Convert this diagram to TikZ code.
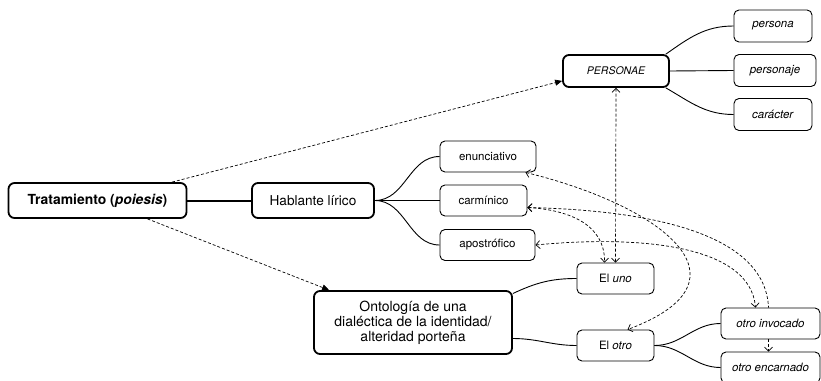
\documentclass[tikz,border=0pt]{standalone}
\usepackage{fontspec}
\setmainfont{TeX Gyre Heros}
\usepackage{tikz}
\usetikzlibrary{arrows.meta}

\begin{document}
\begin{tikzpicture}[x=1pt,y=-1pt,
    mainbox/.style={draw,line width=1.8pt,rounded corners=6pt,align=center,inner sep=0pt,font=\fontsize{13.6}{15}\selectfont},
    subbox/.style={draw,line width=0.9pt,rounded corners=5pt,inner sep=0pt,minimum height=31pt,font=\fontsize{11.5}{13}\selectfont},
    link/.style={line width=0.9pt},
    dlink/.style={line width=0.7pt,dash pattern=on 3pt off 2pt},
    >={Straight Barb[length=4pt,width=8pt]}]
    \useasboundingbox (0,0) rectangle (821,380);
    \node[mainbox,minimum width=178pt,minimum height=35pt,font=\fontsize{13.9}{15}\selectfont\bfseries] (trat) at (97.5,200.5) {Tratamiento (\textit{poiesis})};
    \node[mainbox,minimum width=122pt,minimum height=35pt] (hab) at (313,200.5) {Hablante lírico};
    \node[mainbox,minimum width=198pt,minimum height=63pt,font=\fontsize{14}{15}\selectfont] (ont) at (413,322.5) {Ontología de una\\dialéctica de la identidad/\\alteridad porteña};
    \node[mainbox,minimum width=106pt,minimum height=32pt,font=\fontsize{10.5}{12}\selectfont\itshape] (pers) at (616,71) {PERSONAE};
    \node[subbox,minimum width=96pt] (enu) at (488,156.5) {enunciativo};
    \node[subbox,minimum width=87pt] (car) at (483.5,200.5) {carmínico};
    \node[subbox,minimum width=95pt] (apo) at (487.5,245) {apostrófico};
    \node[subbox,minimum width=77pt] (uno) at (615.5,278.5) {El \textit{uno}};
    \node[subbox,minimum width=77pt] (otro) at (615.5,345.5) {El \textit{otro}};
    \node[subbox,minimum width=99pt] (inv) at (770.5,323.5) {\textit{otro invocado}};
    \node[subbox,minimum width=99pt] (enc) at (770.5,367.5) {\textit{otro encarnado}};
    \node[subbox,minimum width=78pt,minimum height=32pt] (psa) at (773,26) {\textit{persona}};
    \node[subbox,minimum width=82pt,minimum height=32pt] (pje) at (775,70.5) {\textit{personaje}};
    \node[subbox,minimum width=78pt,minimum height=32pt] (crt) at (773,114.5) {\textit{carácter}};
    % solid branches
    \draw[line width=2pt] (trat) -- (hab);
    \draw[link] (hab.east) to[out=0,in=180] (enu.west);
    \draw[link] (hab.east) -- (car.west);
    \draw[link] (hab.east) to[out=0,in=180] (apo.west);
    \draw[link] ([yshift=29pt]ont.east) to[out=25,in=180] (uno.west);
    \draw[link] ([yshift=-16pt]ont.east) to[out=0,in=180] (otro.west);
    \draw[link] (otro.east) to[out=0,in=180] (inv.west);
    \draw[link] (otro.east) to[out=0,in=180] (enc.west);
    \draw[link] ([xshift=-4pt]pers.north east) to[out=35,in=180] (psa.west);
    \draw[link] (pers.east) -- (pje.west);
    \draw[link] ([xshift=-4pt]pers.south east) to[out=-30,in=180] (crt.west);
    % dashed relations
    \draw[dlink,-{Triangle[length=7pt,width=6pt]}] ([xshift=74.5pt]trat.north) -- ([yshift=7pt]pers.south west);
    \draw[dlink,-{Triangle[length=7pt,width=6pt]}] ([xshift=50pt]trat.south) -- ([xshift=16pt]ont.north west);
    \draw[dlink,<->] (pers.south) -- (uno.north);
    \draw[dlink,<->] ([xshift=-11pt]enu.south east) .. controls (660,205) and (760,280) .. ([xshift=12pt]otro.north);
    \draw[dlink,<->] ([yshift=-7pt]car.east) .. controls (570,210) and (605,225) .. ([xshift=-11pt]uno.north);
    \draw[dlink,<-] ([yshift=-7pt]car.east) .. controls (640,210) and (765,230) .. ([xshift=-2pt]inv.north);
    \draw[dlink,<->] (apo.east) .. controls (640,235) and (750,245) .. ([xshift=-15pt]inv.north);
    \draw[dlink,->] ([xshift=-2pt]inv.south) -- ([xshift=-2pt]enc.north);
\end{tikzpicture}
\end{document}
